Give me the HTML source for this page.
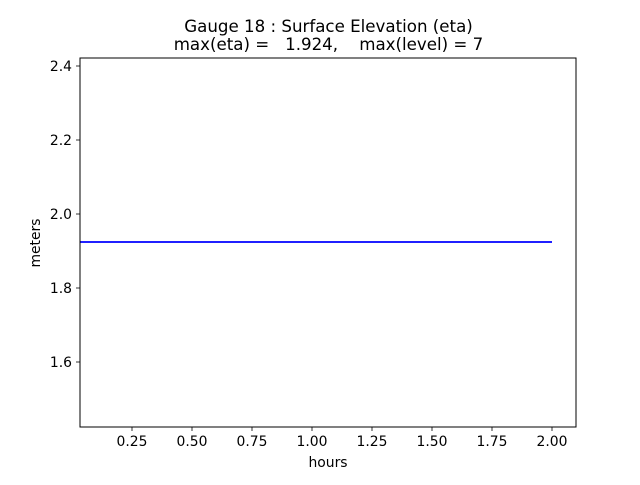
<!DOCTYPE html>
<html><head><style>body{margin:0;background:#fff}</style></head><body>
<svg width="640" height="480" xmlns="http://www.w3.org/2000/svg" font-family="DejaVu Sans, Liberation Sans, sans-serif">
<rect width="640" height="480" fill="#fff"/>
<line x1="80" y1="242" x2="552" y2="242" stroke="#0000ff" stroke-width="1.8"/>
<rect x="80" y="58" width="496" height="369" fill="none" stroke="#000" stroke-width="1"/>
<g stroke="#000" stroke-width="0.8">
<line x1="132" y1="427" x2="132" y2="431"/><line x1="192" y1="427" x2="192" y2="431"/><line x1="252" y1="427" x2="252" y2="431"/><line x1="312" y1="427" x2="312" y2="431"/><line x1="372" y1="427" x2="372" y2="431"/><line x1="432" y1="427" x2="432" y2="431"/><line x1="492" y1="427" x2="492" y2="431"/><line x1="552" y1="427" x2="552" y2="431"/>
<line x1="76" y1="66" x2="80" y2="66"/><line x1="76" y1="140" x2="80" y2="140"/><line x1="76" y1="214" x2="80" y2="214"/><line x1="76" y1="288" x2="80" y2="288"/><line x1="76" y1="362" x2="80" y2="362"/>
</g>
<g font-size="13.9" fill="#000" text-anchor="middle">
<text x="132" y="446">0.25</text><text x="192" y="446">0.50</text><text x="252" y="446">0.75</text><text x="312" y="446">1.00</text><text x="372" y="446">1.25</text><text x="432" y="446">1.50</text><text x="492" y="446">1.75</text><text x="552" y="446">2.00</text>
<text x="328" y="467">hours</text>
</g>
<g font-size="13.9" fill="#000" text-anchor="end">
<text x="72" y="71">2.4</text><text x="72" y="145">2.2</text><text x="72" y="219">2.0</text><text x="72" y="293">1.8</text><text x="72" y="367">1.6</text>
</g>
<text transform="translate(40,243) rotate(-90)" font-size="13.9" text-anchor="middle">meters</text>
<text x="328.5" y="32" font-size="16.67" text-anchor="middle">Gauge 18 : Surface Elevation (eta)</text>
<text x="328.5" y="50" font-size="16.67" text-anchor="middle" xml:space="preserve">max(eta) =   1.924,    max(level) = 7</text>
</svg>
</body></html>
